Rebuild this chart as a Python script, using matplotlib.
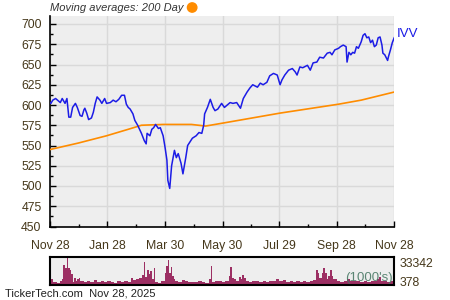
import numpy as np
import matplotlib
matplotlib.use("Agg")
import matplotlib.pyplot as plt
import matplotlib.dates as mdates
from matplotlib.patches import Ellipse
import datetime as dt

# IVV closes, day offset from 2024-11-28
price_day = [0, 1, 3, 6, 11, 13, 16, 18, 20, 22, 24, 27, 29, 32, 34, 36, 37, 39, 41, 44,
             46, 48, 50, 53, 55, 58, 60, 64, 67, 70, 73, 76, 79, 81, 83, 85, 88, 90, 93, 97,
             100, 102, 103, 106, 108, 110, 112, 115, 117, 120, 122, 124, 125, 127, 129, 132,
             134, 136, 139, 141, 144, 146, 151, 155, 158, 161, 163, 164, 167, 170, 173, 175,
             178, 182, 185, 188, 191, 194, 198, 202, 205, 209, 212, 215, 220, 223, 226, 230,
             233, 237, 241, 244, 246, 249, 253, 257, 260, 262, 265, 268, 273, 276, 279, 283,
             286, 290, 294, 297, 299, 302, 306, 308, 311, 314, 315, 317, 319, 321, 323, 325,
             327, 330, 332, 334, 336, 338, 340, 342, 344, 346, 348, 350, 352, 353, 355, 358,
             359, 361, 363, 365]
price = [603, 602, 606, 608, 603, 608, 602, 608, 585, 585, 597, 602, 597, 587, 586, 594, 596,
         590, 582, 584, 591, 602, 610, 606, 602, 608, 602, 603, 606, 604, 607, 612, 612, 601,
         597, 595, 589, 581, 575, 565, 556, 552, 565, 562, 570, 572, 576, 571, 572, 562, 548,
         532, 507, 497, 525, 544, 535, 540, 528, 515, 535, 550, 559, 562, 566, 565, 575, 589,
         597, 607, 597, 593, 595, 602, 597, 600, 603, 602, 603, 596, 608, 616, 621, 625, 622,
         627, 625, 628, 636, 639, 637, 625, 631, 637, 643, 645, 641, 637, 647, 646, 649, 643,
         652, 653, 659, 658, 664, 665, 662, 668, 670, 672, 674, 672, 653, 665, 662, 665, 664,
         672, 670, 678, 686, 688, 683, 684, 677, 680, 672, 674, 683, 684, 674, 664, 662, 655,
         660, 668, 677, 683]

# 200 day moving average
ma_day = [0, 30, 60, 83, 97, 120, 150, 165, 185, 244, 306, 330, 365]
ma = [545, 553, 562, 570, 575, 576, 576, 574, 578, 590, 601, 606, 616]

# volume (1000's), bar start day
vol_day = [0, 3.6, 7.2, 10.7, 12.5, 14.3, 16.1, 17.9, 19.0, 20.8, 22.5, 24.3, 25.8, 27.2,
           28.6, 30.4, 32.2, 35.8, 39.4, 42.9, 46.5, 50.1, 53.7, 57.2, 60.8, 64.4, 68.0,
           71.6, 75.1, 78.7, 82.3, 85.9, 87.7, 91.2, 94.8, 97.3, 99.5, 100.9, 103.0, 104.5,
           105.9, 108.1, 110.2, 111.6, 114.5, 118.1, 121.6, 123.4, 125.2, 126.7, 128.1,
           129.5, 131.7, 133.1, 136.0, 139.5, 143.1, 146.7, 150.3, 153.8, 157.4, 161.0,
           164.6, 168.2, 170.3, 171.7, 175.3, 178.9, 182.5, 186.0, 189.6, 191.4, 193.2,
           195.0, 196.8, 200.4, 202.1, 203.9, 205.7, 207.5, 211.1, 214.7, 218.2, 221.8,
           225.4, 229.0, 232.6, 236.1, 239.7, 243.3, 246.9, 250.4, 254.0, 257.6, 261.2,
           264.8, 268.3, 271.9, 275.5, 279.1, 281.9, 283.7, 285.5, 288.0, 289.8, 291.6,
           293.4, 295.2, 297.0, 298.8, 300.6, 304.1, 307.7, 311.3, 314.9, 318.4, 322.0,
           325.6, 329.2, 332.7, 336.3, 339.9, 343.5, 347.1, 348.8, 350.6, 354.2, 357.8, 361.4]
vol = [7049, 3125, 1948, 4302, 7049, 24706, 20783, 33342, 20783, 18820, 12935, 3125, 9010,
       5087, 7049, 9010, 4302, 3125, 5087, 3910, 5870, 3125, 5087, 3125, 5087, 3125, 1948,
       5087, 3125, 5087, 3125, 8226, 5870, 7049, 8226, 12150, 27845, 9796, 18820, 12935,
       17643, 7049, 20783, 3125, 1948, 4302, 14900, 22745, 30592, 14900, 21567, 10973, 7049,
       5087, 3125, 5870, 4302, 3125, 3910, 3125, 5087, 3125, 1948, 7049, 22745, 3125, 4302,
       5087, 3125, 5087, 10973, 21567, 9010, 7049, 4302, 9796, 7049, 12150, 8226, 5087,
       3125, 4302, 5087, 3125, 4302, 3125, 5087, 4302, 7049, 4302, 5870, 3125, 4302, 3125,
       5087, 3910, 4302, 3125, 5087, 5870, 18820, 14900, 9010, 14900, 20783, 14900, 7049,
       10973, 18820, 10973, 7049, 4302, 3125, 5087, 7049, 5087, 4302, 5087, 3125, 4302,
       3910, 5087, 4302, 7049, 10000, 5087, 4302, 3910, 5087]
vol_labels = ["378", "33342"]

x_labels = ["Nov 28", "Jan 28", "Mar 30", "May 30", "Jul 29", "Sep 28", "Nov 28"]

start = dt.date(2024, 11, 28)
end = dt.date(2025, 11, 28)


def to_dates(days):
    return [mdates.date2num(start) + d for d in days]


txt_col = "#45371a"
plt.rcParams["font.family"] = ["Liberation Sans", "DejaVu Sans"]

fig = plt.figure(figsize=(4.5, 3.0), dpi=100)
ax = fig.add_axes([0.111, 0.245, 0.765, 0.702])
ax.set_facecolor("#eeeeee")

ax.plot(to_dates(ma_day), ma, color="#ff8c00", lw=1.2, zorder=3)
ax.plot(to_dates(price_day), price, color="#1c1ce6", lw=1.1, zorder=4)

x0 = mdates.date2num(start)
x1 = mdates.date2num(end)
ax.set_xlim(x0, x1)
ax.set_ylim(450, 710)

major_x = [x0 + d for d in (0, 61, 122, 183, 243, 304, 365)]
ax.set_xticks(major_x)
ax.set_xticklabels(x_labels)
ax.set_xticks([(a + b) / 2 for a, b in zip(major_x[:-1], major_x[1:])], minor=True)
ax.set_yticks(np.arange(450, 701, 25))
ax.set_yticks(np.arange(462.5, 710, 25), minor=True)

ax.grid(True, which="major", color="#d9d9d9", lw=1.0, zorder=0)
ax.tick_params(which="major", direction="in", length=4, width=1, colors="black",
               labelcolor=txt_col, labelsize=8.8)
ax.tick_params(axis="x", which="major", pad=10)
ax.tick_params(axis="y", which="major", pad=6)
ax.tick_params(which="minor", direction="in", length=2.5, width=1, colors="black")
for s in ("top", "right"):
    ax.spines[s].set_visible(False)
for s in ("left", "bottom"):
    ax.spines[s].set_linewidth(1.2)

ax.text(1.008, 0.915, "IVV", transform=ax.transAxes, color="#1c1ce6", fontsize=9.5,
        ha="left", va="center")

fig.text(0.111, 0.973, "Moving averages: 200 Day", fontsize=8, style="italic",
         color="#333333", ha="left", va="center")
fig.patches.append(Ellipse((0.427, 0.975), 0.021, 0.031, transform=fig.transFigure,
                           color="#ff8c00", figure=fig))

# volume panel
axv = fig.add_axes([0.111, 0.05, 0.765, 0.093])
axv.set_facecolor("#eeeeee")
vd = to_dates(vol_day)
widths = list(np.diff(vd)) + [x1 - vd[-1]]
axv.bar(vd, vol, width=widths, align="edge", color="#9c2f63", lw=0)
axv.set_xlim(x0, x1)
axv.set_ylim(0, 34000)
axv.set_xticks([])
axv.yaxis.tick_right()
axv.set_yticks([4000, 27000])
axv.set_yticklabels(vol_labels)
axv.tick_params(axis="y", length=0, pad=4, labelcolor=txt_col, labelsize=8.8)
for s in axv.spines.values():
    s.set_linewidth(1.5)
axv.text(0.995, 0.04, "(1000's)", transform=axv.transAxes, color="#4a7a66",
         fontsize=9.5, ha="right", va="bottom", alpha=0.9)

fig.text(0.012, 0.022, "TickerTech.com  Nov 28, 2025", fontsize=8, color="#222222",
         ha="left", va="center")

fig.savefig("out.png", dpi=100)
